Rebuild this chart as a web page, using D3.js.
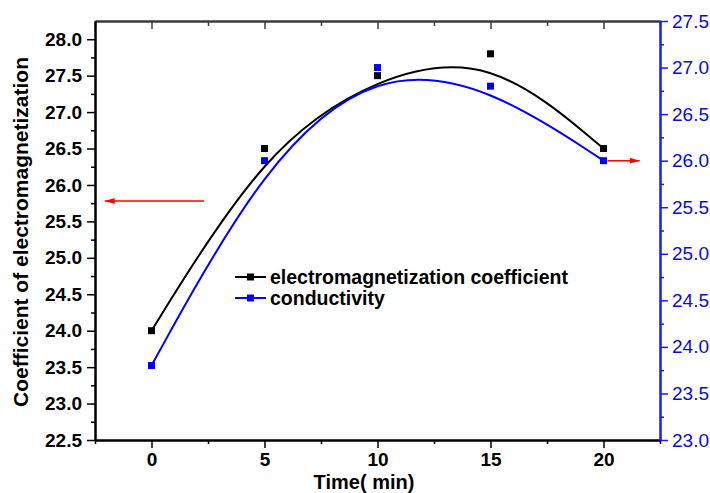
<!DOCTYPE html>
<html>
<head>
<meta charset="utf-8">
<script src="https://cdn.jsdelivr.net/npm/d3@7"></script>
<style>
  body { margin: 0; background: #fff; }
  text { font-family: "Liberation Sans", Arial, sans-serif; }
</style>
</head>
<body>
<script>
var w = 710;
var h = 493;

// data
var times = [0, 5, 10, 15, 20];
var coefficient = [24.0, 26.5, 27.5, 27.8, 26.5];
var conductivity = [23.8, 26.0, 27.0, 26.8, 26.0];

var xTicks = [0, 5, 10, 15, 20];
var xMinor = [-2.5, 2.5, 7.5, 12.5, 17.5, 22.5];
var leftTicks = [22.5, 23.0, 23.5, 24.0, 24.5, 25.0, 25.5, 26.0, 26.5, 27.0, 27.5, 28.0];
var leftMinor = [22.75, 23.25, 23.75, 24.25, 24.75, 25.25, 25.75, 26.25, 26.75, 27.25, 27.75];
var rightTicks = [23.0, 23.5, 24.0, 24.5, 25.0, 25.5, 26.0, 26.5, 27.0, 27.5];
var rightMinor = [23.25, 23.75, 24.25, 24.75, 25.25, 25.75, 26.25, 26.75, 27.25];

var legendLabels = ["electromagnetization coefficient", "conductivity"];

// arrows pointing to the axis of each series, in data units
var leftArrow = { x1: 2.33, x2: -2.07, y: 25.78 };
var rightArrow = { x1: 20, x2: 21.6, y: 26.0 };

var frame = { left: 95, right: 660, top: 21, bottom: 440 };

var svg = d3.select("body").append("svg")
  .attr("width", w)
  .attr("height", h);

var x = d3.scaleLinear().domain([-2.5, 22.5]).range([frame.left, frame.right]);
var yL = d3.scaleLinear().domain([22.5, 28.25]).range([frame.bottom, frame.top]);
var yR = d3.scaleLinear().domain([23.0, 27.5]).range([frame.bottom, frame.top]);

var fmt = d3.format(".1f");

function styleAxis(g, color, width) {
  g.select(".domain").attr("stroke", color).attr("stroke-width", width);
  g.selectAll(".tick line").attr("stroke", color).attr("stroke-width", 1.5);
}

// top frame line with inward ticks
var topAxis = svg.append("g").attr("transform", "translate(0," + frame.top + ")");
topAxis.call(d3.axisTop(x).tickValues(xTicks).tickSize(-8).tickFormat("").tickSizeOuter(0));
styleAxis(topAxis, "#3a3a3a", 2);
var topMinor = svg.append("g").attr("transform", "translate(0," + frame.top + ")");
topMinor.call(d3.axisTop(x).tickValues(xMinor).tickSize(-5).tickFormat("").tickSizeOuter(0));
styleAxis(topMinor, "#3a3a3a", 2);

// bottom axis
var bottomMinor = svg.append("g").attr("transform", "translate(0," + frame.bottom + ")");
bottomMinor.call(d3.axisBottom(x).tickValues(xMinor).tickSize(4).tickFormat("").tickSizeOuter(0));
styleAxis(bottomMinor, "#000", 2);
var bottomAxis = svg.append("g").attr("transform", "translate(0," + frame.bottom + ")");
bottomAxis.call(d3.axisBottom(x).tickValues(xTicks).tickSize(8).tickPadding(5).tickFormat(d3.format("d")).tickSizeOuter(0));
styleAxis(bottomAxis, "#000", 2);
bottomAxis.selectAll("text")
  .attr("fill", "#000")
  .style("font-size", "19px")
  .style("font-weight", "bold");

// left axis
var leftMinorG = svg.append("g").attr("transform", "translate(" + frame.left + ",0)");
leftMinorG.call(d3.axisLeft(yL).tickValues(leftMinor).tickSize(4).tickFormat("").tickSizeOuter(0));
styleAxis(leftMinorG, "#000", 2);
var leftAxis = svg.append("g").attr("transform", "translate(" + frame.left + ",0)");
leftAxis.call(d3.axisLeft(yL).tickValues(leftTicks).tickSize(8).tickPadding(5).tickFormat(fmt).tickSizeOuter(0));
styleAxis(leftAxis, "#000", 2);
leftAxis.selectAll("text")
  .attr("fill", "#000")
  .style("font-size", "19px")
  .style("font-weight", "bold");

// right axis (blue)
var rightMinorG = svg.append("g").attr("transform", "translate(" + frame.right + ",0)");
rightMinorG.call(d3.axisRight(yR).tickValues(rightMinor).tickSize(4).tickFormat("").tickSizeOuter(0));
styleAxis(rightMinorG, "#1a1aff", 2);
var rightAxis = svg.append("g").attr("transform", "translate(" + frame.right + ",0)");
rightAxis.call(d3.axisRight(yR).tickValues(rightTicks).tickSize(8).tickPadding(4).tickFormat(fmt).tickSizeOuter(0));
styleAxis(rightAxis, "#1a1aff", 2);
rightAxis.selectAll("text")
  .attr("fill", "#0a0ad8")
  .style("font-size", "19px");

// axis titles
svg.append("text")
  .attr("transform", "translate(28,232) rotate(-90)")
  .attr("text-anchor", "middle")
  .style("font-size", "21px")
  .style("font-weight", "bold")
  .text("Coefficient of electromagnetization");

svg.append("text")
  .attr("x", 364)
  .attr("y", 489)
  .attr("text-anchor", "middle")
  .style("font-size", "20px")
  .style("font-weight", "bold")
  .text("Time( min)");

// fitted curves
var series = [
  { values: coefficient, y: yL, color: "#000" },
  { values: conductivity, y: yR, color: "#0000ff" }
];

series.forEach(function (s) {
  var pts = times.map(function (t, i) { return [t, s.values[i]]; });
  var line = d3.line()
    .curve(d3.curveBasis)
    .x(function (d) { return x(d[0]); })
    .y(function (d) { return s.y(d[1]); });

  svg.append("path")
    .datum(pts)
    .attr("d", line)
    .attr("fill", "none")
    .attr("stroke", s.color)
    .attr("stroke-width", 2);

  svg.selectAll(null)
    .data(pts)
    .enter().append("rect")
    .attr("x", function (d) { return x(d[0]) - 3.5; })
    .attr("y", function (d) { return s.y(d[1]) - 3.5; })
    .attr("width", 7)
    .attr("height", 7)
    .attr("fill", s.color);
});

// red arrows
svg.append("defs").append("marker")
  .attr("id", "head")
  .attr("viewBox", "0 0 10 6")
  .attr("refX", 10)
  .attr("refY", 3)
  .attr("markerWidth", 10)
  .attr("markerHeight", 6)
  .attr("markerUnits", "userSpaceOnUse")
  .attr("orient", "auto")
  .append("path")
  .attr("d", "M0,0L10,3L0,6Z")
  .attr("fill", "#ff0000");

svg.append("line")
  .attr("x1", x(leftArrow.x1)).attr("x2", x(leftArrow.x2))
  .attr("y1", yL(leftArrow.y)).attr("y2", yL(leftArrow.y))
  .attr("stroke", "#ff0000")
  .attr("stroke-width", 1.5)
  .attr("marker-end", "url(#head)");

svg.append("line")
  .attr("x1", x(rightArrow.x1) + 4).attr("x2", x(rightArrow.x2))
  .attr("y1", yR(rightArrow.y)).attr("y2", yR(rightArrow.y))
  .attr("stroke", "#ff0000")
  .attr("stroke-width", 1.5)
  .attr("marker-end", "url(#head)");

// legend
var legend = svg.append("g").attr("transform", "translate(235,277)");
var legendItems = legend.selectAll("g")
  .data(series)
  .enter().append("g")
  .attr("transform", function (d, i) { return "translate(0," + i * 21 + ")"; });

legendItems.append("line")
  .attr("x1", 0).attr("x2", 31)
  .attr("stroke", function (d) { return d.color; })
  .attr("stroke-width", 2);

legendItems.append("rect")
  .attr("x", 12).attr("y", -3.5)
  .attr("width", 7).attr("height", 7)
  .attr("fill", function (d) { return d.color; });

legendItems.append("text")
  .attr("x", 35)
  .attr("dy", "0.35em")
  .style("font-size", "19.5px")
  .style("font-weight", "bold")
  .text(function (d, i) { return legendLabels[i]; });
</script>
</body>
</html>
